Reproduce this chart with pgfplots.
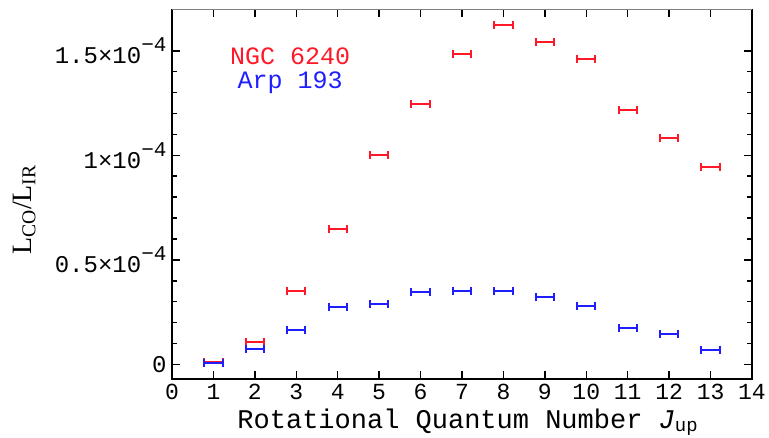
\documentclass[border=0pt]{standalone}
\usepackage{fontspec}
\setmainfont{Liberation Mono}
\newfontfamily\seriffont{Liberation Serif}
\usepackage{pgfplots}
\pgfplotsset{compat=1.18}
\definecolor{cred}{RGB}{255,25,40}
\definecolor{cblue}{RGB}{30,30,255}
\newcommand{\sci}[1]{#1×10\raisebox{0.5em}{\fontsize{21}{21}\selectfont −4}}
\begin{document}
\begin{tikzpicture}
\begin{axis}[
  name=ax,
  scale only axis, width=580pt, height=370pt,
  xmin=0, xmax=14, ymin=-0.07, ymax=1.70,
  axis line style={draw=none},
  xtick={0,1,2,3,4,5,6,7,8,9,10,11,12,13,14},
  xticklabels={0,1,2,3,4,5,6,7,8,9,10,11,12,13,14},
  ytick={0,0.5,1,1.5},
  yticklabels={0,{\sci{0.5}},{\sci{1}},{\sci{1.5}}},
  minor y tick num=4,
  tick align=inside,
  xtick pos=both, ytick pos=both,
  major tick length=8pt,
  minor tick length=5pt,
  every tick/.style={black, line width=1.5pt},
  tick label style={font=\fontsize{24}{26}\selectfont},
  xticklabel style={font=\fontsize{23}{25}\selectfont, yshift=-2pt},
  yticklabel style={xshift=-2pt},
  xlabel={\fontsize{27}{29}\selectfont Rotational Quantum Number \textit{J}\textsubscript{up}},
  xlabel style={at={(axis description cs:0.51,0)}, anchor=base, yshift=-49pt, inner sep=0pt},
  ylabel={\seriffont\fontsize{28}{30}\selectfont L\textsubscript{CO}/L\textsubscript{IR}},
  ylabel style={at={(axis description cs:-0.255,0.457)}, anchor=center},
  clip=false,
]
\draw[line width=2pt] (rel axis cs:0,1) -- (rel axis cs:0,0) -- (rel axis cs:1,0) -- (rel axis cs:1,1);
\draw[gray, line width=0.8pt] (rel axis cs:0,1) -- (rel axis cs:1,1);
\addplot[draw=none, mark=none, error bars/.cd, x dir=both, x explicit, error mark=|,
  error bar style={draw=cred, line width=2pt}, error mark options={draw=cred, line width=2pt, mark size=4pt}]
  coordinates {
  (1,0.012) +- (0.22,0)
  (2,0.108) +- (0.22,0)
  (3,0.351) +- (0.22,0)
  (4,0.647) +- (0.22,0)
  (5,1.000) +- (0.22,0)
  (6,1.244) +- (0.22,0)
  (7,1.486) +- (0.22,0)
  (8,1.623) +- (0.22,0)
  (9,1.542) +- (0.22,0)
  (10,1.459) +- (0.22,0)
  (11,1.217) +- (0.22,0)
  (12,1.081) +- (0.22,0)
  (13,0.945) +- (0.22,0)
  };
\addplot[draw=none, mark=none, error bars/.cd, x dir=both, x explicit, error mark=|,
  error bar style={draw=cblue, line width=2pt}, error mark options={draw=cblue, line width=2pt, mark size=4pt}]
  coordinates {
  (1,0.008) +- (0.22,0)
  (2,0.073) +- (0.22,0)
  (3,0.166) +- (0.22,0)
  (4,0.273) +- (0.22,0)
  (5,0.289) +- (0.22,0)
  (6,0.347) +- (0.22,0)
  (7,0.351) +- (0.22,0)
  (8,0.351) +- (0.22,0)
  (9,0.321) +- (0.22,0)
  (10,0.281) +- (0.22,0)
  (11,0.172) +- (0.22,0)
  (12,0.143) +- (0.22,0)
  (13,0.070) +- (0.22,0)
  };
\node[cred, font=\fontsize{25}{27}\selectfont, anchor=center, inner sep=0pt] at (axis cs:2.85,1.475) {NGC 6240};
\node[cblue, font=\fontsize{25}{27}\selectfont, anchor=center, inner sep=0pt] at (axis cs:2.85,1.345) {Arp 193};
\end{axis}
\pgfresetboundingbox
\path (ax.south west) ++(-172pt,-58pt) coordinate (bl);
\path (ax.north east) ++(17pt,9pt) coordinate (tr);
\path[use as bounding box] (bl) rectangle (tr);
\end{tikzpicture}
\end{document}
